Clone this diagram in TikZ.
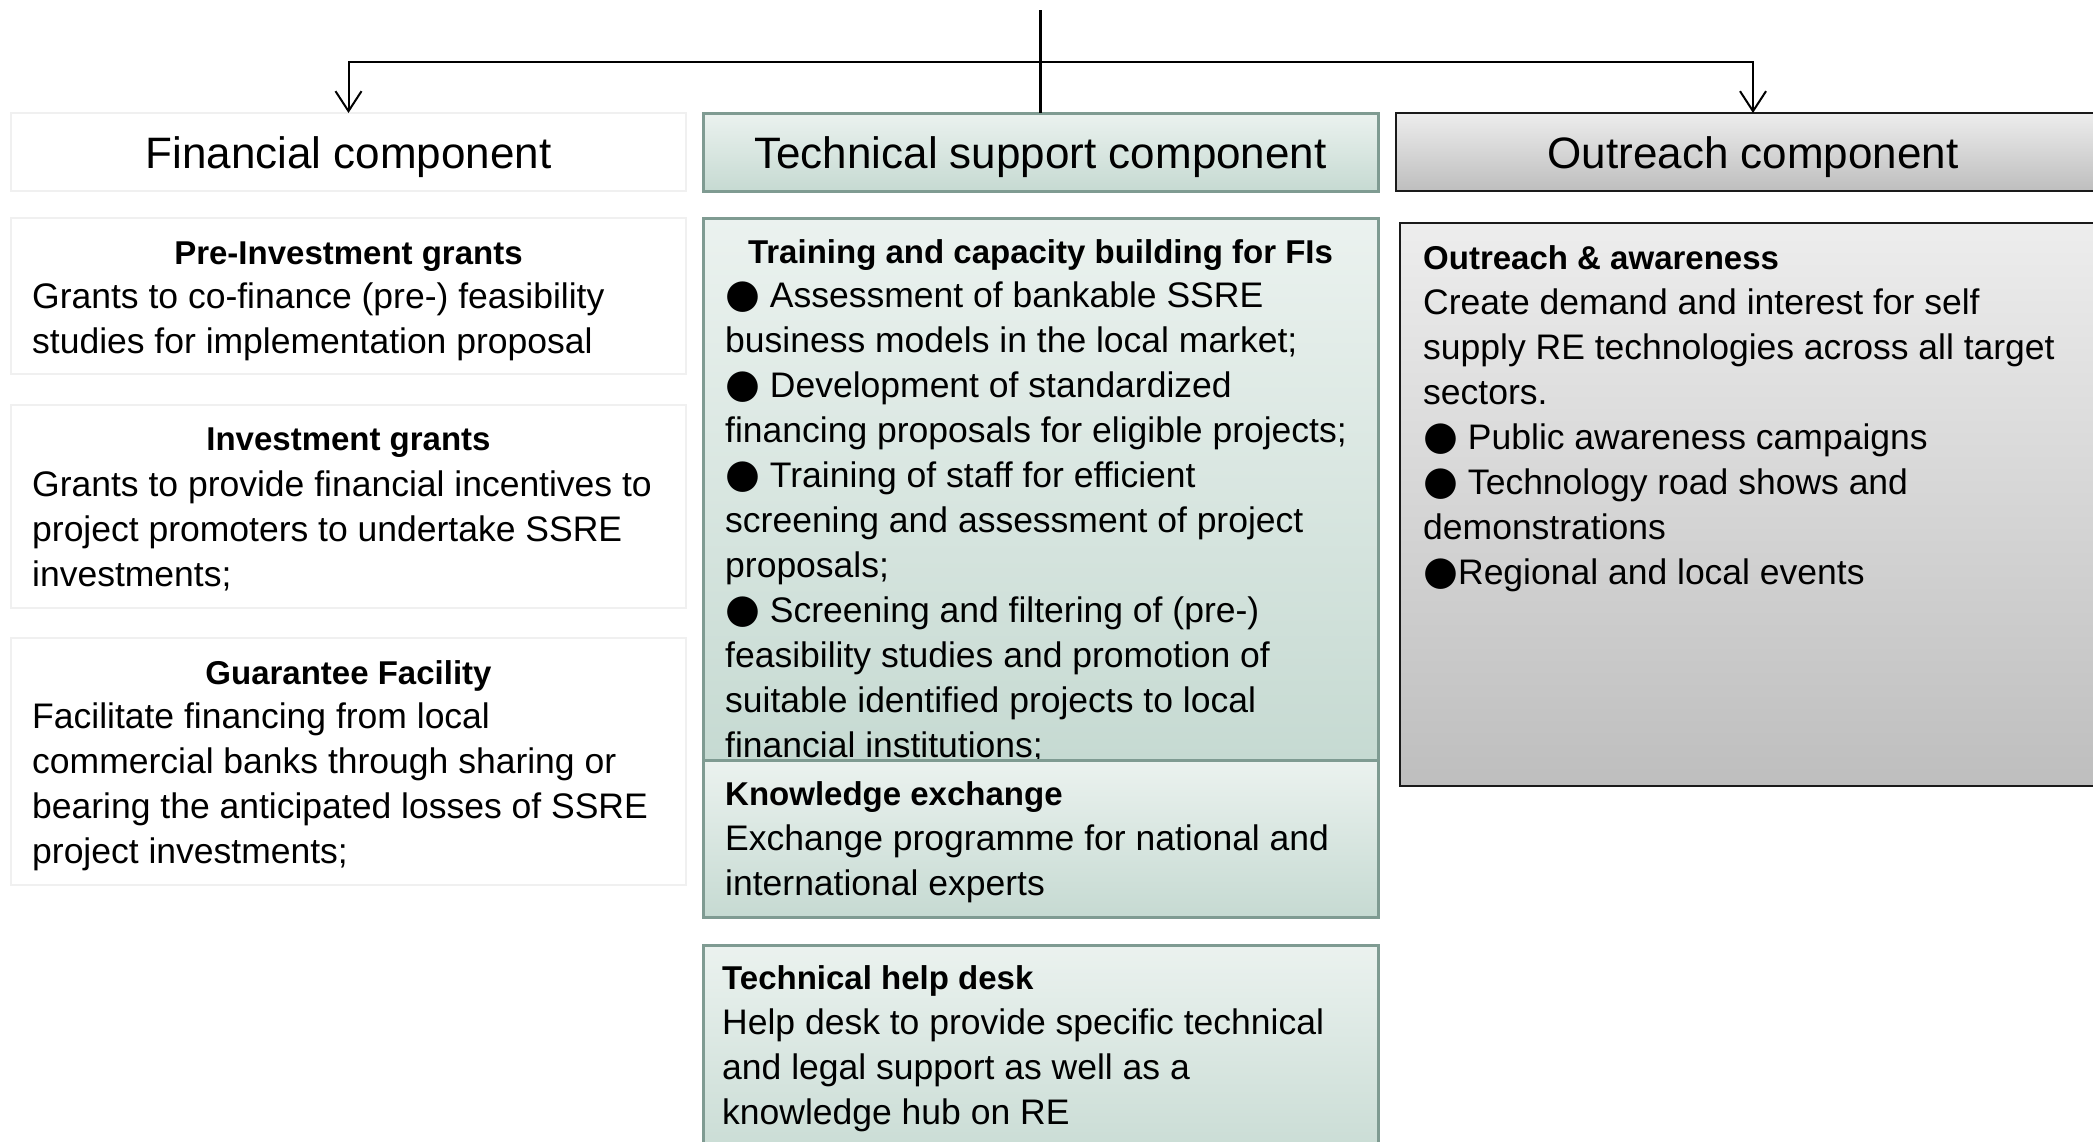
\documentclass[tikz,border=0pt]{standalone}
\usepackage{fontspec}
\setmainfont{Liberation Sans}
\newfontfamily\dejavu{DejaVu Sans}
\usetikzlibrary{arrows.meta}
\definecolor{techtop}{HTML}{EBF2EF}
\definecolor{techbot}{HTML}{C6DAD2}
\definecolor{techline}{HTML}{7F9B92}
\definecolor{outtop}{HTML}{EDEDED}
\definecolor{outbot}{HTML}{BEBEBE}
\definecolor{outline}{HTML}{1A1A1A}
\definecolor{finline}{HTML}{F0F0F0}
\newcommand\bodyfont{\fontsize{35.5}{45}\selectfont}
\newcommand\headfont{\fontsize{33}{45}\selectfont\bfseries}
\newcommand\titlefont{\fontsize{44}{50}\selectfont}
\newcommand\bul{{\dejavu\fontsize{40}{45}\selectfont ●}}
\begin{document}
\begin{tikzpicture}[x=1pt,y=-1pt,
  boxbase/.style={rectangle, anchor=north west, inner sep=0pt, outer sep=0pt},
  finbox/.style={boxbase, draw=finline, line width=2pt, fill=white},
  techbox/.style={boxbase, draw=techline, line width=3pt, top color=techtop, bottom color=techbot},
  outbox/.style={boxbase, draw=outline, line width=2.6pt, top color=outtop, bottom color=outbot},
  hdr/.style={minimum height=78pt, font=\titlefont, text height=32pt, text depth=0pt},
  headtxt/.style={anchor=base, inner sep=0pt, font=\headfont},
  bodytxt/.style={anchor=north west, inner sep=0pt, align=left, font=\bodyfont},
  conn/.style={draw=black, line width=2pt}
]
\useasboundingbox (0,0) rectangle (2093,1141);
\clip (0,0) rectangle (2093,1141);

% headers
\node[finbox, hdr, minimum width=675pt] (fin) at (11,113) {Financial component};
\node[techbox, hdr, minimum width=675pt] (tech) at (703,113) {Technical support component};
\node[outbox, hdr, minimum width=714pt] (out) at (1396,113) {Outreach component};

% financial column
\node[finbox, minimum width=675pt, minimum height=156pt] (pre) at (11,218) {};
\node[headtxt] (preh) at (348.5,264) {Pre-Investment grants};
\node[bodytxt] (pret) at (32,276.5) {\strut Grants to co-finance (pre-) feasibility\\studies for implementation proposal};

\node[finbox, minimum width=675pt, minimum height=203pt] (inv) at (11,405) {};
\node[headtxt] (invh) at (348.5,450) {Investment grants};
\node[bodytxt] (invt) at (32,464.5) {\strut Grants to provide financial incentives to\\project promoters to undertake SSRE\\investments;};

\node[finbox, minimum width=675pt, minimum height=247pt] (gua) at (11,638) {};
\node[headtxt] (guah) at (348.5,684) {Guarantee Facility};
\node[bodytxt] (guat) at (32,696.5) {\strut Facilitate financing from local\\commercial banks through sharing or\\bearing the anticipated losses of SSRE\\project investments;};

% technical column
\node[techbox, minimum width=675pt, minimum height=542pt] (train) at (703,218) {};
\node[headtxt] (trainh) at (1040.5,263) {Training and capacity building for FIs};
\node[bodytxt] (traint) at (725,275.5) {\strut\bul{} Assessment of bankable SSRE\\business models in the local market;\\\bul{} Development of standardized\\financing proposals for eligible projects;\\\bul{} Training of staff for efficient\\screening and assessment of project\\proposals;\\\bul{} Screening and filtering of (pre-)\\feasibility studies and promotion of\\suitable identified projects to local\\financial institutions;};

\node[techbox, minimum width=675pt, minimum height=157pt] (know) at (703,760) {};
\node[headtxt, anchor=base west] (knowh) at (725,805) {Knowledge exchange};
\node[bodytxt] (knowt) at (725,818.5) {\strut Exchange programme for national and\\international experts};

\node[techbox, minimum width=675pt, minimum height=230pt] (help) at (703,945) {};
\node[headtxt, anchor=base west] (helph) at (722,989) {Technical help desk};
\node[bodytxt] (helpt) at (722,1002.5) {\strut Help desk to provide specific technical\\and legal support as well as a\\knowledge hub on RE};

% outreach column
\node[outbox, minimum width=720pt, minimum height=563pt] (outb) at (1400,223) {};
\node[headtxt, anchor=base west] (outh) at (1423,269) {Outreach \& awareness};
\node[bodytxt] (outt) at (1423,282.5) {\strut Create demand and interest for self\\supply RE technologies across all target\\sectors.\\\bul{} Public awareness campaigns\\\bul{} Technology road shows and\\demonstrations\\\bul{}Regional and local events};

% connectors
\coordinate (top) at (1040.5,10);
\coordinate (hub) at (1040.5,61.5);
\draw[conn, {Straight Barb[length=20pt,width=26pt]}-{Straight Barb[length=20pt,width=26pt]}] (fin.north) |- (hub) -| (out.north);
\draw[conn, line width=3pt] (top) -- (tech.north);
\end{tikzpicture}
\end{document}
